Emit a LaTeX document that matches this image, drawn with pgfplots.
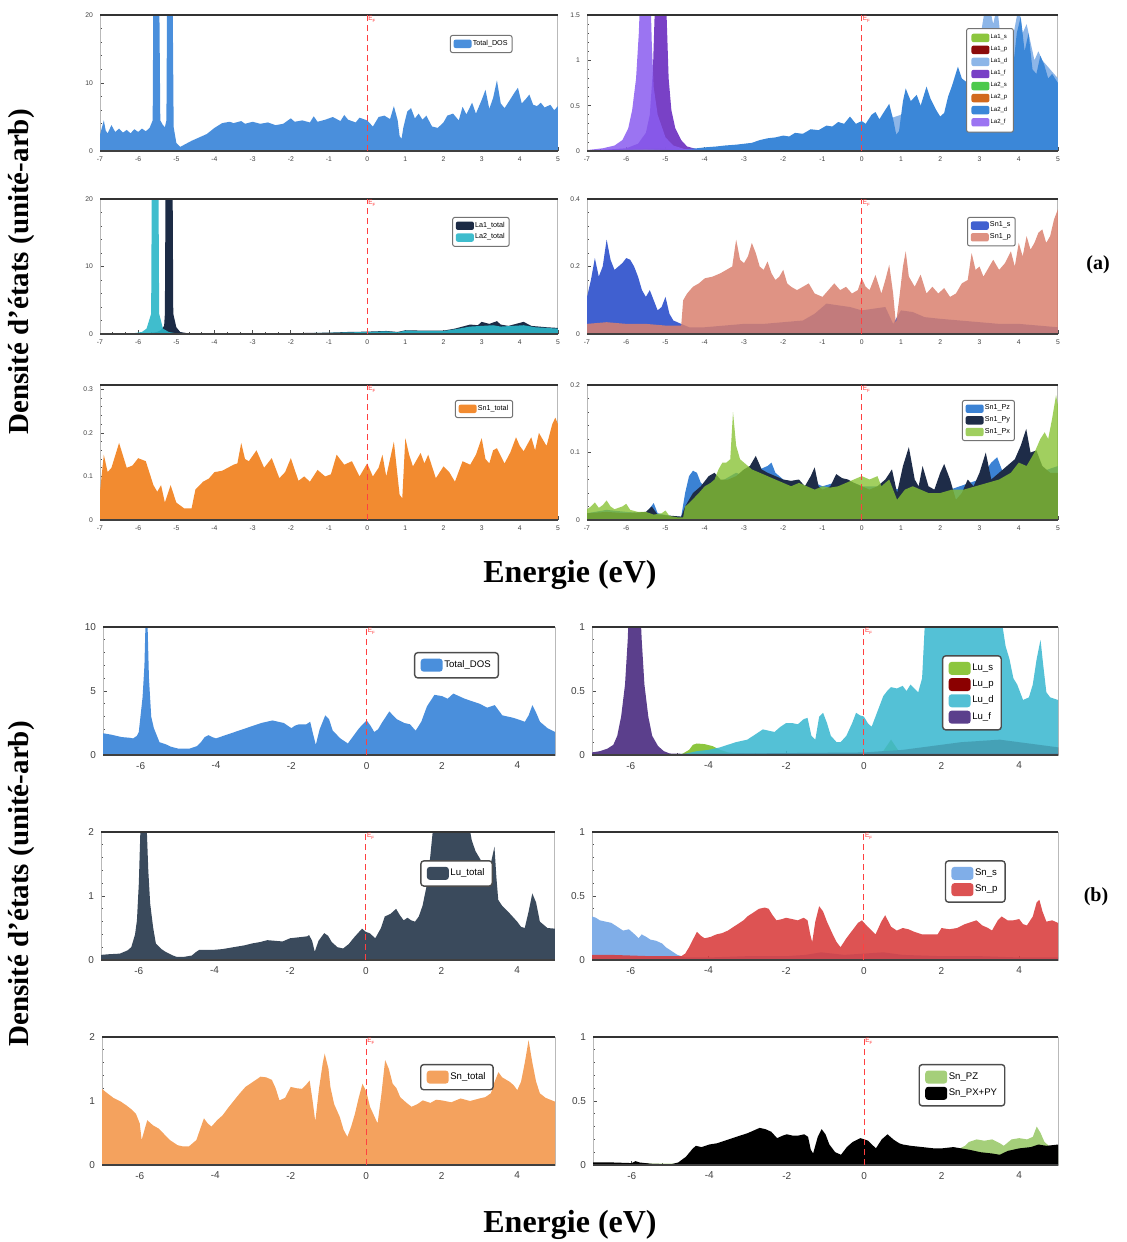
\documentclass[border=0pt]{standalone}
\usepackage{fontspec}
\setmainfont{Liberation Serif}
\setsansfont{Liberation Sans}
\usepackage{pgfplots}
\pgfplotsset{compat=1.18}

% colours of the partial densities of states
\definecolor{totA}{HTML}{4A8FDC}
\definecolor{laUs}{HTML}{8CC63E}
\definecolor{laUp}{HTML}{8B0A0A}
\definecolor{laUd}{HTML}{8DB6E8}
\definecolor{laUf}{HTML}{6A2CC0}
\definecolor{laDs}{HTML}{4CC94C}
\definecolor{laDp}{HTML}{D2691E}
\definecolor{laDd}{HTML}{3B87D8}
\definecolor{laDf}{HTML}{8A5CF0}
\definecolor{laUtot}{HTML}{1C2B45}
\definecolor{laDtot}{HTML}{2BB6C8}
\definecolor{snUs}{HTML}{4060D0}
\definecolor{snUp}{HTML}{D9806E}
\definecolor{snUtot}{HTML}{F28B30}
\definecolor{pz}{HTML}{3B82D4}
\definecolor{py}{HTML}{1E2C48}
\definecolor{px}{HTML}{86C232}
\definecolor{lus}{HTML}{8CC63E}
\definecolor{lup}{HTML}{8B0000}
\definecolor{lud}{HTML}{3CB8D0}
\definecolor{luf}{HTML}{5B3F8C}
\definecolor{lutot}{HTML}{3A4A5C}
\definecolor{sns}{HTML}{80AEE8}
\definecolor{snp}{HTML}{D83B3B}
\definecolor{sntot}{HTML}{F4A25E}
\definecolor{snpz}{HTML}{A5CF7A}

\pgfplotsset{
  ar/.style={fill=#1, draw=none},
  dos/.style={
    scale only axis, anchor=north west,
    xmin=-7, xmax=5, ymin=0, clip=true,
    axis line style={gray!55, line width=0.5pt},
    tick pos=left,
    major tick length=2pt, minor tick length=1.1pt,
    tick style={black!70, line width=0.35pt},
    /pgf/number format/assume math mode=true,
    ticklabel style={text=black!75},
    legend cell align=left,
    legend style={fill=white, rounded corners=1pt, draw=black!55},
    after end axis/.code={
      \draw[black!75, line width=0.6pt] (rel axis cs:0,0) -- (rel axis cs:1,0);
      \draw[black!80, line width=1.2pt] (rel axis cs:0,1) -- (rel axis cs:1,1);
      \draw[red!75, densely dashed, line width=0.4pt]
        ({axis cs:0,0} |- {rel axis cs:0,0}) -- ({axis cs:0,0} |- {rel axis cs:0,1});
      \node[red!80, anchor=north west, inner sep=0.4pt, font=\sffamily\fontsize{3.2}{3.5}\selectfont]
        at ({axis cs:0,0} |- {rel axis cs:0,1}) {E\textsubscript{F}};
    },
  },
  dosA/.style={dos,
    xtick={-7,...,5}, minor x tick num=2, minor y tick num=4,
    ticklabel style={font=\sffamily\fontsize{3.4}{3.6}\selectfont},
    xticklabel style={yshift=0.5pt},
    legend style={font=\sffamily\fontsize{3.6}{4}\selectfont, inner sep=1.6pt,
      nodes={inner sep=0.6pt}, row sep=0.6pt, line width=0.5pt},
    legend image code/.code={\fill[##1] (0pt,-2pt) rectangle (9pt,2.2pt);},
  },
  dosB/.style={dos,
    xtick={-6,-4,...,4}, minor x tick num=4, minor y tick num=4,
    ticklabel style={font=\sffamily\fontsize{5}{5.5}\selectfont},
    legend style={font=\sffamily\fontsize{4.8}{5.2}\selectfont, inner sep=3pt,
      nodes={inner sep=0.8pt}, row sep=1.6pt, draw=black!70, line width=0.7pt,
      rounded corners=1.5pt},
    legend image code/.code={\fill[##1] (0pt,-3.2pt) rectangle (11pt,3.3pt);},
  },
}

\begin{document}
\begin{tikzpicture}
\useasboundingbox (0,0) rectangle (563pt,-621pt);

% ================= (a) =================
% total DOS
\begin{axis}[dosA, at={(50pt,-7.5pt)}, width=229pt, height=68pt,
  ymax=20, ytick={0,10,20},
  legend style={at={(0.764,0.853)}, anchor=north west}]
\addplot[ar=totA] coordinates {
(-7,2.4) (-6.9,4.5) (-6.85,3.0) (-6.8,2.6) (-6.7,3.8) (-6.6,2.8) (-6.5,3.3) (-6.4,2.7)
(-6.3,3.1) (-6.2,2.6) (-6.1,3.2) (-6.0,2.8) (-5.9,3.3) (-5.8,2.9) (-5.7,3.4) (-5.62,4.5)
(-5.6,25) (-5.45,25) (-5.42,4.5) (-5.35,3.8) (-5.3,3.5) (-5.26,4.5) (-5.24,25) (-5.1,25)
(-5.07,3.5) (-5.0,1.2) (-4.9,0.6) (-4.8,0.9) (-4.6,1.5) (-4.4,2.0) (-4.2,2.5) (-4.0,3.4)
(-3.8,4.1) (-3.6,4.3) (-3.5,4.1) (-3.3,4.4) (-3.2,4.0) (-3.0,4.3) (-2.8,4.0) (-2.6,4.2)
(-2.4,3.8) (-2.2,4.0) (-2.0,4.8) (-1.9,4.3) (-1.7,4.5) (-1.5,4.2) (-1.4,5.1) (-1.3,4.3)
(-1.1,4.6) (-0.9,5.0) (-0.7,4.4) (-0.6,5.3) (-0.5,4.6) (-0.3,4.2) (-0.2,4.9) (0,4.5)
(0.15,3.6) (0.3,5.0) (0.45,5.2) (0.6,4.7) (0.7,6.6) (0.8,4.5) (0.85,2.2) (0.9,1.8)
(0.95,3.5) (1.05,5.8) (1.15,6.3) (1.25,4.8) (1.35,5.5) (1.45,4.6) (1.55,5.2) (1.7,3.6)
(1.85,3.4) (2.0,4.2) (2.1,5.2) (2.25,5.5) (2.4,4.5) (2.5,6.5) (2.6,5.4) (2.75,7.1)
(2.85,5.5) (3.0,7.5) (3.1,9.0) (3.2,6.2) (3.3,7.8) (3.4,10.4) (3.5,7.0) (3.6,6.3)
(3.75,7.6) (3.85,8.5) (3.95,9.3) (4.05,7.0) (4.15,7.6) (4.25,8.3) (4.35,6.8) (4.45,6.6)
(4.55,7.1) (4.65,6.4) (4.8,6.8) (4.9,6.0) (5,6.6)} \closedcycle;
\addlegendentry{Total\_DOS}
\end{axis}

% La partial DOS
\begin{axis}[dosA, at={(293.5pt,-7.5pt)}, width=235.5pt, height=68pt,
  ymax=1.5, ytick={0,0.5,1,1.5},
  legend style={at={(0.805,0.904)}, anchor=north west,
    font=\sffamily\fontsize{3}{3.4}\selectfont, row sep=1.2pt, inner sep=2.4pt}]
\addplot[ar=laUs] coordinates {(-7,0.005) (-5.2,0.03) (-4.8,0.01) (0,0.02) (3,0.04) (5,0.03)} \closedcycle;
\addlegendentry{La1\_s}
\addplot[ar=laUp] coordinates {(-7,0.005) (-5.2,0.02) (-4.8,0.01) (0,0.015) (3,0.03) (5,0.02)} \closedcycle;
\addlegendentry{La1\_p}
\addplot[ar=laUd] coordinates {
(-7,0) (-4,0.02) (-2,0.12) (0,0.25) (1,0.4) (2,0.35) (2.5,0.6) (2.8,0.6) (3.0,1.2)
(3.15,1.6) (3.25,1.6) (3.35,1.4) (3.45,1.6) (3.55,1.2) (3.7,1.0) (3.85,1.25) (4.0,1.6)
(4.1,1.3) (4.2,1.4) (4.4,1.0) (4.5,1.1) (4.6,1.0) (4.8,0.9) (5,0.8)} \closedcycle;
\addlegendentry{La1\_d}
\addplot[ar=laUf, fill opacity=0.9] coordinates {
(-7,0) (-6,0.03) (-5.7,0.08) (-5.5,0.2) (-5.4,0.4) (-5.32,0.9) (-5.27,1.6) (-5.15,2)
(-4.98,1.6) (-4.92,0.8) (-4.85,0.45) (-4.75,0.25) (-4.6,0.12) (-4.45,0.05) (-4.2,0.02)
(-3.5,0) (5,0)} \closedcycle;
\addlegendentry{La1\_f}
\addplot[ar=laDs] coordinates {(-7,0.004) (-5.5,0.02) (-4.8,0.008) (0,0.012) (3,0.03) (5,0.02)} \closedcycle;
\addlegendentry{La2\_s}
\addplot[ar=laDp] coordinates {(-7,0.004) (-5.5,0.015) (-4.8,0.008) (0,0.01) (3,0.02) (5,0.015)} \closedcycle;
\addlegendentry{La2\_p}
\addplot[ar=laDd] coordinates {
(-7,0.01) (-5,0.01) (-4.5,0.02) (-4.2,0.03) (-4,0.04) (-3.7,0.05) (-3.5,0.06) (-3.2,0.07)
(-3,0.08) (-2.8,0.09) (-2.6,0.12) (-2.4,0.14) (-2.2,0.15) (-2,0.17) (-1.85,0.16) (-1.7,0.2)
(-1.5,0.19) (-1.3,0.24) (-1.1,0.23) (-0.9,0.28) (-0.75,0.27) (-0.6,0.32) (-0.45,0.3)
(-0.3,0.38) (-0.15,0.3) (0,0.33) (0.1,0.3) (0.25,0.4) (0.35,0.43) (0.45,0.35) (0.55,0.42)
(0.7,0.52) (0.8,0.35) (0.88,0.18) (0.95,0.22) (1.05,0.55) (1.12,0.69) (1.25,0.55) (1.4,0.62)
(1.5,0.5) (1.65,0.71) (1.75,0.58) (1.9,0.45) (2.0,0.38) (2.1,0.42) (2.2,0.6) (2.3,0.72)
(2.45,0.93) (2.55,0.8) (2.7,0.75) (2.8,0.8) (2.9,0.9) (3.0,1.1) (3.1,0.95) (3.2,1.3)
(3.3,1.0) (3.45,1.25) (3.55,0.85) (3.65,0.9) (3.75,1.15) (3.85,0.9) (3.95,1.3) (4.05,1.48)
(4.15,1.1) (4.25,1.3) (4.35,0.9) (4.45,0.85) (4.55,1.05) (4.65,0.95) (4.75,0.8) (4.85,0.85)
(5,0.75)} \closedcycle;
\addlegendentry{La2\_d}
\addplot[ar=laDf, fill opacity=0.85] coordinates {
(-7,0.01) (-6.6,0.03) (-6.3,0.06) (-6.1,0.12) (-5.95,0.25) (-5.85,0.45) (-5.75,0.8)
(-5.68,1.3) (-5.62,2) (-5.5,2.2) (-5.4,2) (-5.35,1.2) (-5.3,0.7) (-5.2,0.4) (-5.0,0.15)
(-4.8,0.06) (-4.5,0.02) (-4,0.01) (5,0)} \closedcycle;
\addlegendentry{La2\_f}
\end{axis}

% La total
\begin{axis}[dosA, at={(50pt,-99.5pt)}, width=229pt, height=67.5pt,
  ymax=20, ytick={0,10,20},
  legend style={at={(0.769,0.867)}, anchor=north west}]
\addplot[ar=laUtot] coordinates {
(-7,0) (-5.8,0.05) (-5.5,0.3) (-5.4,0.6) (-5.32,1.2) (-5.3,3) (-5.28,25) (-5.1,25) (-5.08,3)
(-5.0,1) (-4.9,0.3) (-4.7,0.1) (-4,0.05) (-3,0.08) (-2,0.12) (-1,0.2) (-0.5,0.3) (0,0.35)
(0.5,0.45) (0.8,0.3) (1,0.55) (1.5,0.5) (2,0.5) (2.3,0.8) (2.5,1.1) (2.7,1.4) (2.9,1.3)
(3.0,1.8) (3.2,1.5) (3.4,1.9) (3.5,1.4) (3.7,1.2) (3.9,1.5) (4.1,1.8) (4.3,1.2) (4.5,1.1)
(4.7,1.0) (5,0.9)} \closedcycle;
\addlegendentry{La1\_total}
\addplot[ar=laDtot, fill opacity=0.9] coordinates {
(-7,0) (-6.2,0.05) (-5.9,0.3) (-5.78,0.8) (-5.66,3) (-5.64,25) (-5.47,25) (-5.45,3)
(-5.35,0.8) (-5.2,0.3) (-5.0,0.1) (-4.5,0.03) (-3,0.06) (-2,0.1) (-1,0.18) (0,0.3)
(0.5,0.4) (0.8,0.25) (1,0.5) (1.5,0.45) (2,0.45) (2.3,0.7) (2.5,0.9) (2.7,1.1) (3.0,1.2)
(3.3,1.3) (3.5,1.1) (3.8,1.2) (4.1,1.3) (4.4,1.0) (4.7,0.9) (5,0.8)} \closedcycle;
\addlegendentry{La2\_total}
\end{axis}

% Sn1 s and p
\begin{axis}[dosA, at={(293.5pt,-99.5pt)}, width=235.5pt, height=67.5pt,
  ymax=0.4, ytick={0,0.2,0.4},
  legend style={at={(0.807,0.867)}, anchor=north west}]
\addplot[ar=snUs] coordinates {
(-7,0.11) (-6.9,0.16) (-6.8,0.225) (-6.7,0.17) (-6.6,0.2) (-6.5,0.28) (-6.4,0.22) (-6.3,0.19)
(-6.2,0.2) (-6.1,0.21) (-6.0,0.225) (-5.9,0.22) (-5.8,0.2) (-5.7,0.17) (-5.6,0.13) (-5.5,0.11)
(-5.4,0.13) (-5.3,0.1) (-5.2,0.07) (-5.1,0.08) (-5.0,0.11) (-4.9,0.06) (-4.8,0.04) (-4.6,0.03)
(-4.4,0.02) (-4,0.02) (-3.5,0.025) (-3,0.03) (-2.5,0.03) (-2,0.035) (-1.5,0.04) (-1.2,0.06)
(-0.9,0.09) (-0.6,0.085) (-0.3,0.08) (0,0.07) (0.3,0.075) (0.6,0.08) (0.8,0.03) (1.0,0.07)
(1.3,0.065) (1.6,0.05) (2,0.045) (2.5,0.04) (3,0.035) (3.5,0.03) (4,0.03) (4.5,0.025) (5,0.02)} \closedcycle;
\addlegendentry{Sn1\_s}
\addplot[ar=snUp, fill opacity=0.85] coordinates {
(-7,0.03) (-6.5,0.035) (-6,0.03) (-5.5,0.03) (-5,0.025) (-4.6,0.025) (-4.55,0.1) (-4.45,0.12)
(-4.3,0.14) (-4.15,0.15) (-4.0,0.165) (-3.8,0.17) (-3.6,0.18) (-3.45,0.19) (-3.3,0.2)
(-3.2,0.28) (-3.1,0.22) (-3.0,0.21) (-2.9,0.23) (-2.8,0.27) (-2.7,0.24) (-2.6,0.2) (-2.5,0.19)
(-2.4,0.215) (-2.3,0.18) (-2.2,0.16) (-2.1,0.17) (-2.0,0.19) (-1.9,0.15) (-1.8,0.14)
(-1.65,0.13) (-1.5,0.14) (-1.35,0.15) (-1.2,0.12) (-1.0,0.11) (-0.85,0.13) (-0.7,0.15)
(-0.55,0.13) (-0.4,0.14) (-0.25,0.12) (-0.1,0.13) (0,0.165) (0.1,0.14) (0.2,0.13) (0.35,0.175)
(0.5,0.12) (0.6,0.16) (0.7,0.205) (0.8,0.12) (0.87,0.03) (0.95,0.1) (1.05,0.2) (1.12,0.245)
(1.2,0.17) (1.35,0.14) (1.5,0.176) (1.65,0.12) (1.8,0.14) (1.95,0.12) (2.1,0.136) (2.25,0.11)
(2.4,0.12) (2.55,0.15) (2.7,0.16) (2.8,0.24) (2.9,0.19) (3.0,0.2) (3.1,0.17) (3.2,0.19)
(3.35,0.22) (3.5,0.19) (3.65,0.21) (3.8,0.245) (3.9,0.2) (4.0,0.27) (4.1,0.23) (4.2,0.29)
(4.3,0.25) (4.4,0.27) (4.5,0.3) (4.6,0.31) (4.7,0.27) (4.8,0.29) (4.9,0.34) (5,0.37)} \closedcycle;
\addlegendentry{Sn1\_p}
\end{axis}

% Sn1 total
\begin{axis}[dosA, at={(50pt,-192.5pt)}, width=229pt, height=67.5pt,
  ymax=0.31, ytick={0,0.1,0.2,0.3},
  legend style={at={(0.775,0.889)}, anchor=north west}]
\addplot[ar=snUtot] coordinates {
(-7,0.065) (-6.9,0.15) (-6.8,0.11) (-6.7,0.12) (-6.5,0.177) (-6.3,0.12) (-6.15,0.125)
(-6.0,0.142) (-5.8,0.135) (-5.6,0.08) (-5.5,0.065) (-5.4,0.08) (-5.3,0.04) (-5.15,0.08)
(-5.0,0.04) (-4.8,0.027) (-4.6,0.027) (-4.5,0.07) (-4.3,0.088) (-4.15,0.095) (-4.0,0.11)
(-3.8,0.113) (-3.5,0.127) (-3.4,0.13) (-3.3,0.177) (-3.2,0.14) (-3.1,0.135) (-2.9,0.16)
(-2.7,0.12) (-2.5,0.142) (-2.3,0.096) (-2.15,0.11) (-2.0,0.142) (-1.8,0.09) (-1.65,0.1)
(-1.5,0.088) (-1.3,0.115) (-1.1,0.1) (-0.95,0.105) (-0.8,0.15) (-0.6,0.127) (-0.4,0.135)
(-0.2,0.1) (0,0.13) (0.15,0.1) (0.3,0.12) (0.4,0.15) (0.5,0.1) (0.7,0.18) (0.85,0.058)
(0.92,0.05) (1.0,0.188) (1.1,0.15) (1.2,0.123) (1.4,0.154) (1.5,0.13) (1.6,0.15) (1.8,0.096)
(2.0,0.123) (2.15,0.11) (2.3,0.088) (2.5,0.135) (2.7,0.127) (2.85,0.15) (3.0,0.188) (3.1,0.14)
(3.2,0.13) (3.3,0.16) (3.4,0.165) (3.6,0.13) (3.75,0.155) (3.9,0.19) (4.0,0.17) (4.1,0.158)
(4.3,0.19) (4.4,0.16) (4.5,0.2) (4.7,0.17) (4.85,0.22) (4.93,0.235) (5,0.22)} \closedcycle;
\addlegendentry{Sn1\_total}
\end{axis}

% Sn1 p orbitals
\begin{axis}[dosA, at={(293.5pt,-192.5pt)}, width=235.5pt, height=67.5pt,
  ymax=0.2, ytick={0,0.1,0.2},
  legend style={at={(0.796,0.889)}, anchor=north west}]
\addplot[ar=pz] coordinates {
(-7,0.01) (-6.5,0.015) (-6,0.012) (-5.5,0.01) (-5.3,0.025) (-5.2,0.01) (-4.8,0.005)
(-4.6,0.005) (-4.5,0.04) (-4.4,0.065) (-4.3,0.073) (-4.2,0.07) (-4.1,0.055) (-4.0,0.05)
(-3.8,0.055) (-3.5,0.06) (-3.2,0.07) (-3.0,0.065) (-2.8,0.07) (-2.6,0.075) (-2.4,0.08)
(-2.3,0.085) (-2.2,0.07) (-2.0,0.06) (-1.8,0.055) (-1.5,0.05) (-1.2,0.055) (-1,0.05)
(-0.7,0.055) (-0.5,0.06) (-0.2,0.055) (0,0.05) (0.5,0.05) (1,0.045) (1.5,0.04) (2,0.04)
(2.5,0.05) (3.0,0.06) (3.3,0.085) (3.45,0.093) (3.6,0.07) (4,0.06) (4.5,0.07) (5,0.08)} \closedcycle;
\addlegendentry{Sn1\_Pz}
\addplot[ar=py] coordinates {
(-7,0.01) (-6.5,0.012) (-6,0.01) (-5.5,0.012) (-5.35,0.02) (-5.2,0.008) (-4.6,0.005)
(-4.5,0.02) (-4.3,0.04) (-4.1,0.05) (-3.9,0.065) (-3.75,0.07) (-3.6,0.06) (-3.4,0.06)
(-3.2,0.065) (-3.0,0.075) (-2.85,0.08) (-2.7,0.095) (-2.55,0.075) (-2.4,0.07) (-2.2,0.065)
(-2.0,0.06) (-1.8,0.058) (-1.6,0.06) (-1.45,0.05) (-1.3,0.065) (-1.2,0.078) (-1.1,0.05)
(-1.0,0.045) (-0.8,0.05) (-0.65,0.068) (-0.5,0.062) (-0.35,0.06) (-0.2,0.055) (0,0.05)
(0.2,0.045) (0.4,0.05) (0.6,0.06) (0.77,0.075) (0.9,0.04) (1.05,0.08) (1.2,0.108)
(1.35,0.06) (1.45,0.05) (1.55,0.08) (1.7,0.05) (1.85,0.045) (2.0,0.07) (2.1,0.083)
(2.25,0.06) (2.4,0.03) (2.55,0.04) (2.7,0.06) (2.85,0.05) (3.0,0.07) (3.16,0.1) (3.3,0.06)
(3.5,0.07) (3.7,0.08) (3.9,0.09) (4.05,0.11) (4.19,0.135) (4.3,0.1) (4.45,0.103) (4.6,0.08)
(4.8,0.07) (5,0.07)} \closedcycle;
\addlegendentry{Sn1\_Py}
\addplot[ar=px, fill opacity=0.78] coordinates {
(-7,0.016) (-6.9,0.02) (-6.8,0.026) (-6.7,0.018) (-6.6,0.022) (-6.5,0.029) (-6.4,0.02)
(-6.3,0.016) (-6.1,0.02) (-6.0,0.024) (-5.9,0.015) (-5.7,0.012) (-5.5,0.012) (-5.3,0.008)
(-5.1,0.01) (-5.0,0.014) (-4.9,0.006) (-4.7,0.004) (-4.55,0.004) (-4.5,0.02) (-4.4,0.025)
(-4.3,0.031) (-4.15,0.04) (-4.0,0.05) (-3.85,0.055) (-3.75,0.06) (-3.65,0.075) (-3.55,0.085)
(-3.45,0.085) (-3.35,0.09) (-3.28,0.16) (-3.2,0.11) (-3.1,0.09) (-3.0,0.085) (-2.9,0.08)
(-2.8,0.075) (-2.6,0.07) (-2.4,0.065) (-2.2,0.06) (-2,0.055) (-1.8,0.05) (-1.6,0.055)
(-1.4,0.05) (-1.2,0.045) (-1,0.05) (-0.8,0.048) (-0.6,0.05) (-0.4,0.055) (-0.2,0.06)
(0,0.065) (0.2,0.06) (0.4,0.065) (0.5,0.05) (0.7,0.06) (0.9,0.03) (1.1,0.045) (1.3,0.05)
(1.5,0.045) (1.7,0.04) (2,0.04) (2.3,0.045) (2.6,0.045) (2.9,0.05) (3.2,0.055) (3.5,0.06)
(3.8,0.07) (4.0,0.085) (4.2,0.08) (4.4,0.1) (4.55,0.12) (4.66,0.13) (4.75,0.12) (4.85,0.15)
(4.95,0.185) (5,0.17)} \closedcycle;
\addlegendentry{Sn1\_Px}
\end{axis}

% ================= (b) =================
% total DOS
\begin{axis}[dosB, at={(51.5pt,-313.5pt)}, width=226pt, height=64pt,
  ymax=10, ytick={0,5,10},
  legend style={at={(0.688,0.805)}, anchor=north west}]
\addplot[ar=totA] coordinates {
(-7,1.7) (-6.8,1.6) (-6.5,1.4) (-6.3,1.35) (-6.2,1.3) (-6.1,1.5) (-6.05,1.8) (-5.95,4.5)
(-5.9,7) (-5.87,10.5) (-5.82,10.5) (-5.78,6) (-5.72,3) (-5.65,2.1) (-5.5,1.0) (-5.3,0.8)
(-5.2,0.65) (-5.0,0.5) (-4.7,0.5) (-4.5,0.7) (-4.4,1.0) (-4.3,1.4) (-4.2,1.55) (-4.1,1.4)
(-4.0,1.3) (-3.8,1.5) (-3.5,1.8) (-3.2,2.1) (-3.0,2.3) (-2.8,2.5) (-2.5,2.7) (-2.35,2.6)
(-2.2,2.5) (-2.0,2.1) (-1.9,2.3) (-1.8,2.4) (-1.6,2.4) (-1.5,2.6) (-1.42,1.6) (-1.35,0.8)
(-1.25,2.0) (-1.1,3.1) (-1.0,2.8) (-0.9,1.9) (-0.7,1.3) (-0.5,0.9) (-0.35,1.5) (-0.2,2.1)
(0,2.7) (0.1,2.3) (0.2,1.8) (0.3,2.0) (0.4,2.5) (0.6,3.4) (0.7,3.1) (0.8,2.8) (1.0,2.5)
(1.15,2.4) (1.3,1.9) (1.45,2.6) (1.6,3.8) (1.8,4.7) (2.0,4.6) (2.15,4.4) (2.3,4.8) (2.45,4.6)
(2.6,4.4) (2.8,4.2) (3.0,4.0) (3.2,3.7) (3.4,3.9) (3.6,3.1) (3.75,3.0) (3.9,2.9) (4.05,2.75)
(4.2,2.6) (4.3,3.1) (4.4,3.9) (4.5,3.3) (4.6,2.6) (4.8,2.1) (5,1.8)} \closedcycle;
\addlegendentry{Total\_DOS}
\end{axis}

% Lu partial DOS
\begin{axis}[dosB, at={(296pt,-313.5pt)}, width=233pt, height=64pt,
  ymax=1, ytick={0,0.5,1},
  legend style={at={(0.751,0.78)}, anchor=north west}]
\addplot[ar=lus] coordinates {
(-7,0) (-4.7,0.005) (-4.5,0.04) (-4.4,0.08) (-4.3,0.09) (-4.1,0.085) (-3.9,0.07) (-3.7,0.04)
(-3.5,0.02) (-3,0.01) (0,0.01) (0.5,0.03) (0.7,0.12) (0.9,0.03) (2,0.02) (5,0.01)} \closedcycle;
\addlegendentry{Lu\_s}
\addplot[ar=lup] coordinates {
(-7,0) (-4,0.01) (0,0.02) (1,0.04) (1.5,0.06) (2,0.08) (2.5,0.1) (3,0.11) (3.5,0.12)
(4,0.1) (4.5,0.08) (5,0.06)} \closedcycle;
\addlegendentry{Lu\_p}
\addplot[ar=lud, fill opacity=0.88] coordinates {
(-7,0.005) (-5,0.005) (-4.6,0.01) (-4.3,0.03) (-4.0,0.04) (-3.7,0.06) (-3.5,0.08) (-3.3,0.1)
(-3.0,0.12) (-2.8,0.16) (-2.6,0.2) (-2.45,0.19) (-2.3,0.18) (-2.15,0.22) (-2.0,0.25)
(-1.85,0.25) (-1.7,0.24) (-1.55,0.28) (-1.45,0.29) (-1.35,0.15) (-1.25,0.12) (-1.15,0.3)
(-1.05,0.33) (-0.95,0.25) (-0.85,0.15) (-0.7,0.1) (-0.6,0.1) (-0.45,0.15) (-0.3,0.25)
(-0.2,0.33) (-0.1,0.31) (0,0.3) (0.1,0.25) (0.2,0.22) (0.3,0.3) (0.4,0.38) (0.5,0.46)
(0.6,0.5) (0.7,0.53) (0.85,0.52) (1.0,0.54) (1.1,0.5) (1.2,0.55) (1.3,0.52) (1.4,0.49)
(1.5,0.6) (1.6,1.2) (1.7,1.5) (2.0,1.6) (2.5,1.7) (3.0,1.6) (3.4,1.4) (3.55,1.05) (3.65,0.85)
(3.75,0.75) (3.85,0.6) (3.95,0.55) (4.1,0.43) (4.25,0.45) (4.35,0.55) (4.45,0.75) (4.55,0.9)
(4.62,0.7) (4.7,0.49) (4.8,0.45) (4.9,0.44) (5,0.43)} \closedcycle;
\addlegendentry{Lu\_d}
\addplot[ar=luf] coordinates {
(-7,0.02) (-6.8,0.03) (-6.6,0.05) (-6.45,0.08) (-6.35,0.15) (-6.25,0.3) (-6.15,0.55)
(-6.08,0.9) (-6.03,1.3) (-5.95,1.6) (-5.85,1.6) (-5.78,1.3) (-5.72,0.9) (-5.65,0.55)
(-5.55,0.3) (-5.45,0.15) (-5.3,0.07) (-5.15,0.03) (-5.0,0.012) (-4.5,0.008) (5,0.008)} \closedcycle;
\addlegendentry{Lu\_f}
\end{axis}

% Lu total
\begin{axis}[dosB, at={(50.5pt,-416pt)}, width=227pt, height=64pt,
  ymax=2, ytick={0,1,2},
  legend style={at={(0.703,0.78)}, anchor=north west}]
\addplot[ar=lutot] coordinates {
(-7,0.08) (-6.8,0.09) (-6.5,0.1) (-6.3,0.15) (-6.2,0.2) (-6.1,0.4) (-6.05,0.62) (-6.0,1.2)
(-5.95,2.2) (-5.8,2.2) (-5.75,1.4) (-5.7,0.88) (-5.62,0.5) (-5.55,0.26) (-5.4,0.17)
(-5.3,0.13) (-5.1,0.07) (-5.0,0.05) (-4.8,0.05) (-4.6,0.07) (-4.5,0.12) (-4.4,0.16)
(-4.2,0.16) (-4.0,0.16) (-3.8,0.17) (-3.5,0.2) (-3.2,0.23) (-3.0,0.26) (-2.8,0.28)
(-2.6,0.31) (-2.4,0.3) (-2.2,0.29) (-2.0,0.34) (-1.85,0.35) (-1.7,0.36) (-1.55,0.37)
(-1.5,0.39) (-1.42,0.3) (-1.35,0.13) (-1.25,0.3) (-1.1,0.42) (-1.0,0.38) (-0.9,0.28)
(-0.75,0.2) (-0.6,0.18) (-0.45,0.25) (-0.3,0.36) (-0.1,0.49) (0.0,0.44) (0.1,0.42)
(0.25,0.34) (0.4,0.5) (0.5,0.68) (0.65,0.72) (0.8,0.8) (0.9,0.7) (1.0,0.62) (1.1,0.66)
(1.2,0.62) (1.3,0.6) (1.4,0.68) (1.5,0.85) (1.6,1.14) (1.7,1.6) (1.8,2.2) (2.7,2.2)
(2.8,1.87) (2.9,1.7) (3.0,1.6) (3.1,1.5) (3.2,1.45) (3.3,1.5) (3.4,1.77) (3.45,1.3)
(3.5,0.94) (3.6,0.85) (3.8,0.73) (4.0,0.6) (4.1,0.52) (4.2,0.5) (4.3,0.75) (4.4,1.04)
(4.5,0.9) (4.6,0.6) (4.8,0.5) (5,0.49)} \closedcycle;
\addlegendentry{Lu\_total}
\end{axis}

% Sn s and p
\begin{axis}[dosB, at={(296pt,-416pt)}, width=233pt, height=64pt,
  ymax=1, ytick={0,0.5,1},
  legend style={at={(0.757,0.78)}, anchor=north west}]
\addplot[ar=sns] coordinates {
(-7,0.34) (-6.9,0.33) (-6.8,0.31) (-6.65,0.3) (-6.5,0.29) (-6.35,0.26) (-6.2,0.23)
(-6.05,0.24) (-5.9,0.2) (-5.8,0.17) (-5.72,0.2) (-5.6,0.18) (-5.5,0.16) (-5.35,0.15)
(-5.2,0.13) (-5.1,0.1) (-5.0,0.08) (-4.9,0.06) (-4.8,0.04) (-4.6,0.02) (-4.4,0.02) (-4,0.02)
(-3,0.03) (-2,0.03) (-1.5,0.04) (-1.1,0.06) (-0.8,0.05) (-0.5,0.04) (0,0.05) (0.5,0.06)
(1,0.04) (2,0.03) (3,0.03) (4,0.02) (5,0.02)} \closedcycle;
\addlegendentry{Sn\_s}
\addplot[ar=snp, fill opacity=0.88] coordinates {
(-7,0.04) (-6.5,0.04) (-6,0.035) (-5.5,0.03) (-5,0.03) (-4.7,0.03) (-4.6,0.05) (-4.5,0.1)
(-4.4,0.16) (-4.3,0.22) (-4.2,0.19) (-4.1,0.17) (-3.95,0.18) (-3.8,0.2) (-3.65,0.21)
(-3.5,0.23) (-3.3,0.27) (-3.1,0.31) (-3.0,0.34) (-2.85,0.37) (-2.7,0.4) (-2.55,0.41)
(-2.45,0.4) (-2.35,0.35) (-2.25,0.31) (-2.1,0.32) (-2.0,0.33) (-1.85,0.32) (-1.7,0.31)
(-1.55,0.33) (-1.45,0.31) (-1.38,0.2) (-1.33,0.14) (-1.25,0.3) (-1.15,0.42) (-1.05,0.38)
(-0.95,0.3) (-0.8,0.2) (-0.7,0.14) (-0.6,0.1) (-0.45,0.17) (-0.3,0.23) (-0.15,0.29)
(-0.05,0.31) (0.1,0.26) (0.3,0.2) (0.45,0.3) (0.55,0.35) (0.7,0.26) (0.85,0.23) (1.0,0.25)
(1.15,0.24) (1.3,0.22) (1.5,0.2) (1.7,0.2) (1.9,0.2) (2.0,0.25) (2.2,0.24) (2.4,0.25)
(2.6,0.28) (2.8,0.3) (2.9,0.31) (3.05,0.27) (3.2,0.25) (3.3,0.23) (3.45,0.31) (3.55,0.34)
(3.7,0.31) (3.85,0.31) (4.0,0.32) (4.1,0.28) (4.2,0.27) (4.35,0.34) (4.45,0.45) (4.52,0.47)
(4.6,0.38) (4.7,0.3) (4.85,0.31) (5,0.29)} \closedcycle;
\addlegendentry{Sn\_p}
\end{axis}

% Sn total
\begin{axis}[dosB, at={(51pt,-518.5pt)}, width=226.5pt, height=64pt,
  ymax=2, ytick={0,1,2},
  legend style={at={(0.702,0.79)}, anchor=north west}]
\addplot[ar=sntot] coordinates {
(-7,1.19) (-6.9,1.14) (-6.7,1.05) (-6.5,0.99) (-6.35,0.93) (-6.2,0.86) (-6.1,0.8)
(-6.0,0.65) (-5.95,0.39) (-5.85,0.6) (-5.8,0.7) (-5.65,0.62) (-5.5,0.57) (-5.35,0.48)
(-5.2,0.39) (-5.0,0.31) (-4.85,0.29) (-4.7,0.29) (-4.5,0.39) (-4.3,0.73) (-4.2,0.65)
(-4.1,0.6) (-3.95,0.7) (-3.8,0.78) (-3.65,0.9) (-3.5,1.01) (-3.35,1.12) (-3.2,1.22)
(-3.0,1.3) (-2.8,1.38) (-2.65,1.37) (-2.5,1.33) (-2.4,1.2) (-2.3,1.01) (-2.15,1.05)
(-2.0,1.22) (-1.85,1.2) (-1.7,1.19) (-1.6,1.25) (-1.5,1.32) (-1.42,1.0) (-1.35,0.68)
(-1.25,1.2) (-1.15,1.6) (-1.1,1.74) (-1.0,1.5) (-0.95,1.22) (-0.85,0.95) (-0.7,0.75)
(-0.6,0.55) (-0.5,0.44) (-0.4,0.6) (-0.3,0.8) (-0.2,1.05) (-0.1,1.27) (0.0,1.15) (0.1,0.91)
(0.2,0.78) (0.3,0.65) (0.4,1.1) (0.5,1.64) (0.6,1.5) (0.7,1.27) (0.8,1.2) (0.9,1.06)
(1.05,0.98) (1.2,0.91) (1.35,0.95) (1.5,1.01) (1.7,0.97) (1.85,1.02) (2.0,1.01) (2.25,0.98)
(2.5,1.04) (2.75,1.0) (3.0,1.04) (3.15,1.06) (3.3,1.12) (3.4,1.3) (3.5,1.45) (3.6,1.37)
(3.8,1.3) (3.9,1.25) (4.0,1.17) (4.1,1.3) (4.2,1.6) (4.3,1.95) (4.4,1.6) (4.5,1.3) (4.6,1.12)
(4.75,1.05) (5,0.99)} \closedcycle;
\addlegendentry{Sn\_total}
\end{axis}

% Sn p orbitals
\begin{axis}[dosB, at={(296.5pt,-518.5pt)}, width=232.5pt, height=64pt,
  ymax=1, ytick={0,0.5,1},
  legend style={at={(0.70,0.79)}, anchor=north west}]
\addplot[ar=snpz] coordinates {
(-7,0.01) (-4.5,0.01) (-4,0.03) (-3,0.05) (-2,0.05) (-1,0.05) (0,0.05) (1,0.06) (2,0.1)
(2.4,0.12) (2.6,0.15) (2.7,0.18) (2.9,0.2) (3.1,0.19) (3.3,0.2) (3.5,0.17) (3.6,0.15)
(3.8,0.2) (4.0,0.21) (4.2,0.2) (4.35,0.22) (4.45,0.3) (4.55,0.25) (4.65,0.18) (4.8,0.14)
(5,0.12)} \closedcycle;
\addlegendentry{Sn\_PZ}
\addplot[ar=black] coordinates {
(-7,0.02) (-6.5,0.02) (-6.0,0.015) (-5.9,0.03) (-5.8,0.02) (-5.5,0.01) (-5.0,0.005)
(-4.8,0.02) (-4.6,0.065) (-4.45,0.12) (-4.35,0.15) (-4.2,0.14) (-4.0,0.16) (-3.8,0.17)
(-3.5,0.2) (-3.3,0.22) (-3.0,0.25) (-2.85,0.27) (-2.7,0.29) (-2.55,0.28) (-2.4,0.26)
(-2.25,0.21) (-2.1,0.23) (-2.0,0.24) (-1.85,0.23) (-1.7,0.23) (-1.55,0.24) (-1.45,0.22)
(-1.38,0.12) (-1.32,0.09) (-1.2,0.22) (-1.1,0.28) (-1.0,0.24) (-0.9,0.16) (-0.75,0.1)
(-0.6,0.08) (-0.45,0.14) (-0.3,0.18) (-0.1,0.21) (0.1,0.19) (0.3,0.13) (0.45,0.2) (0.6,0.24)
(0.75,0.2) (0.9,0.17) (1.0,0.16) (1.2,0.15) (1.5,0.14) (1.8,0.13) (2.0,0.13) (2.3,0.14)
(2.5,0.13) (2.7,0.12) (3.0,0.1) (3.3,0.09) (3.5,0.08) (3.7,0.11) (4.0,0.13) (4.3,0.14)
(4.5,0.16) (4.7,0.15) (5,0.16)} \closedcycle;
\addlegendentry{Sn\_PX+PY}
\end{axis}

% shared labels
\node[rotate=90, font=\bfseries\fontsize{14.5}{16}\selectfont] at (11pt,-136pt) {Densité d’états (unité-arb)};
\node[rotate=90, font=\bfseries\fontsize{14.5}{16}\selectfont] at (11pt,-442pt) {Densité d’états (unité-arb)};
\node[font=\bfseries\fontsize{16}{18}\selectfont] at (285pt,-287.5pt) {Energie (eV)};
\node[font=\bfseries\fontsize{16}{18}\selectfont] at (285pt,-612.5pt) {Energie (eV)};
\node[font=\bfseries\fontsize{10}{12}\selectfont] at (549pt,-132.5pt) {(a)};
\node[font=\bfseries\fontsize{10}{12}\selectfont] at (548pt,-448.5pt) {(b)};
\end{tikzpicture}
\end{document}
